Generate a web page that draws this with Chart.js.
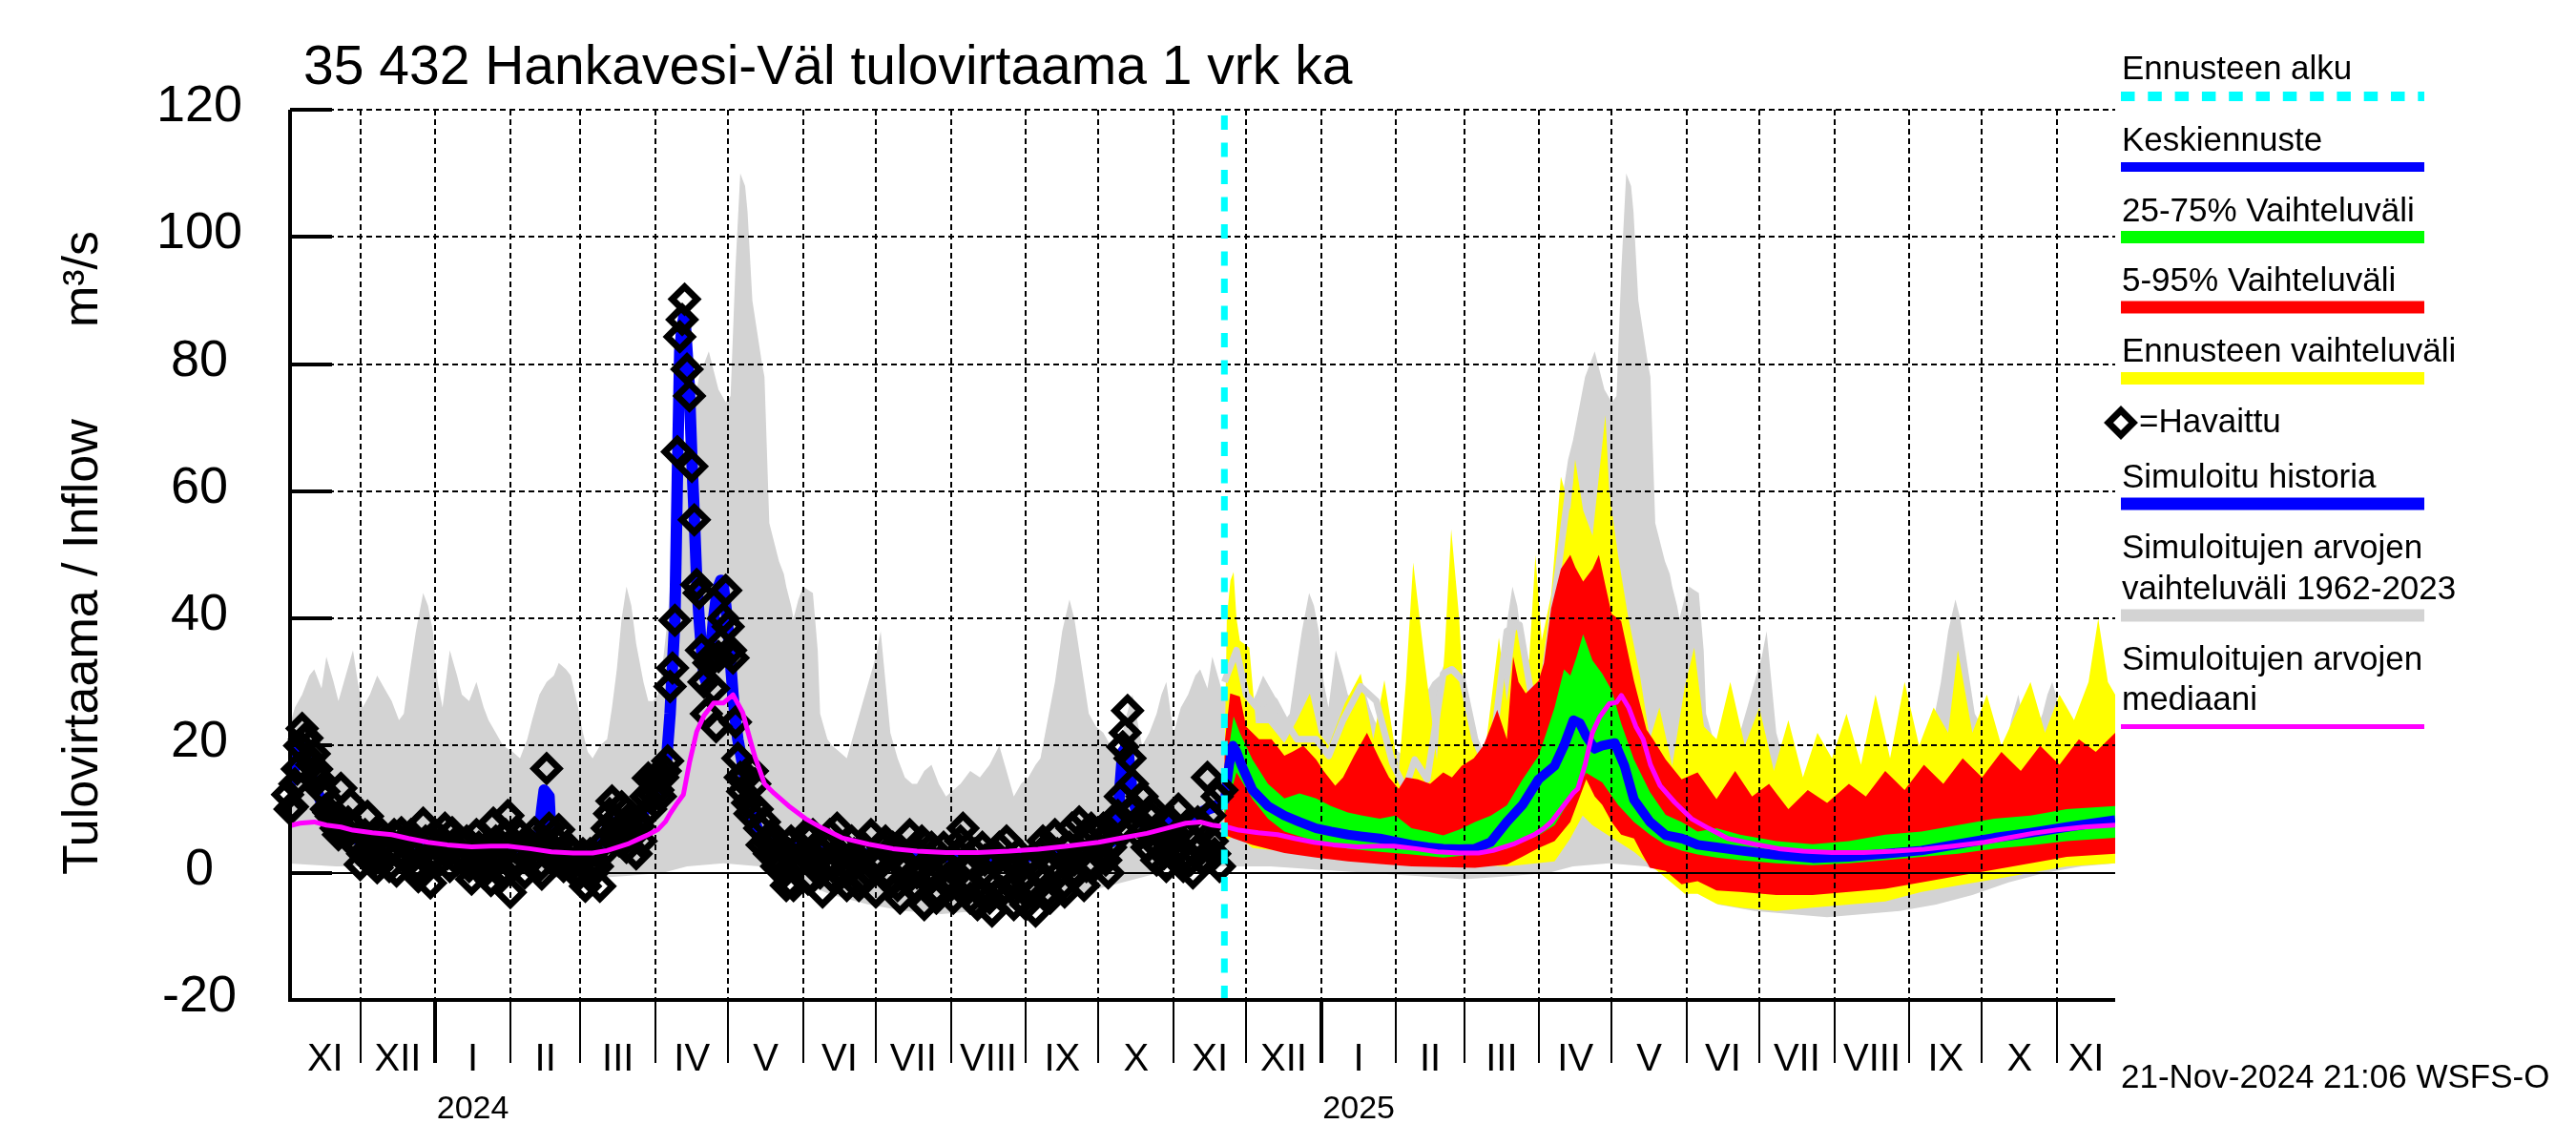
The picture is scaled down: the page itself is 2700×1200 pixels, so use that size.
<!DOCTYPE html>
<html>
<head>
<meta charset="utf-8">
<script src="https://cdn.jsdelivr.net/npm/chart.js@4.4.1/dist/chart.umd.min.js"></script>
<style>
  html, body { margin: 0; padding: 0; background: #fff; }
  #wrap { width: 2700px; height: 1200px; }
</style>
</head>
<body>
<div id="wrap"><canvas id="chart" width="2700" height="1200"></canvas></div>
<script>
// x = days counted from 1 Nov 2023
const monthStarts = [0, 30, 61, 92, 121, 152, 182, 213, 243, 274, 305, 335, 366, 396, 427, 458, 486, 517, 547, 578, 608, 639, 670, 700, 731, 755];
const monthLabels = ['XI', 'XII', 'I', 'II', 'III', 'IV', 'V', 'VI', 'VII', 'VIII', 'IX', 'X', 'XI', 'XII', 'I', 'II', 'III', 'IV', 'V', 'VI', 'VII', 'VIII', 'IX', 'X', 'XI'];
const yearLabels = [[61, 92, '2024'], [427, 458, '2025']];
const yTicks = [-20, 0, 20, 40, 60, 80, 100, 120];
const forecastStart = 387;

// simulated range 1962-2023 (grey)
const greyMaxPast = [[0,22],[3,26],[6,28],[9,31],[11,32],[14,29],[16,34],[19,30],[21,27],[24,31],[27,35],[29,30],[31,26],[34,28],[37,31],[40,29],[43,27],[46,24],[48,25],[51,33],[53,38],[56,44],[58,42],[60,38],[62,30],[64,26],[67,35],[70,31],[72,28],[75,27],[78,30],[81,26],[83,24],[86,22],[89,20],[93,19],[96,18],[99,21],[101,24],[104,28],[107,30],[110,31],[112,33],[115,32],[117,31],[120,26],[122,22],[124,19],[126,18],[129,20],[132,21],[134,26],[136,32],[138,40],[140,45],[142,42],[144,36],[147,30],[149,27],[151,27],[153,28],[155,33],[157,40],[159,50],[161,60],[163,65],[165,68],[167,72],[170,78],[172,80],[174,82],[176,79],[178,76],[181,74],[183,75],[185,95],[187,110],[189,108],[190,104],[192,90],[194,85],[196,80],[197,78],[199,55],[201,52],[203,49],[205,47],[206,45],[208,42],[209,40],[211,43],[213,45],[215,44.5],[217,44],[219,35],[220,25],[223,21],[225,20],[228,19],[231,18],[234,22],[237,26],[240,30],[243,34],[245,38],[247,30],[249,22],[252,18],[255,15],[258,14],[260,14],[263,16],[266,17],[269,14],[272,12],[275,13],[278,14],[282,16],[286,15],[290,17],[294,20],[297,16],[300,12],[303,14],[306,15],[309,17],[311,18],[314,24],[317,30],[320,38],[323,43],[325,40],[327,35],[329,30],[331,25],[334,23],[337,22],[340,20],[343,18],[346,24],[349,28],[351,24],[353,20],[356,22],[359,25],[361,28],[363,30]];
const greyMaxFc = [[366,22],[369,26],[372,28],[375,31],[377,32],[380,29],[382,34],[385,30],[387,27],[390,31],[393,35],[395,30],[397,26],[400,28],[403,31],[406,29],[409,27],[412,24],[414,25],[417,33],[419,38],[422,44],[424,42],[426,38],[428,30],[430,26],[433,35],[436,31],[438,28],[441,27],[444,30],[447,26],[449,24],[452,22],[455,20],[459,19],[462,18],[465,21],[467,24],[470,28],[473,30],[476,31],[478,33],[481,32],[483,31],[486,26],[488,22],[490,19],[492,18],[495,20],[498,21],[500,26],[502,32],[504,40],[506,45],[508,42],[510,36],[513,30],[515,27],[517,27],[519,28],[521,33],[523,40],[525,50],[527,60],[529,65],[531,68],[533,72],[536,78],[538,80],[540,82],[542,79],[544,76],[547,74],[549,75],[551,95],[553,110],[555,108],[556,104],[558,90],[560,85],[562,80],[563,78],[565,55],[567,52],[569,49],[571,47],[572,45],[574,42],[575,40],[577,43],[579,45],[581,44.5],[583,44],[585,35],[586,25],[589,21],[591,20],[594,19],[597,18],[600,22],[603,26],[606,30],[609,34],[611,38],[613,30],[615,22],[618,18],[621,15],[624,14],[626,14],[629,16],[632,17],[635,14],[638,12],[641,13],[644,14],[648,16],[652,15],[656,17],[660,20],[663,16],[666,12],[669,14],[672,15],[675,17],[677,18],[680,24],[683,30],[686,38],[689,43],[691,40],[693,35],[695,30],[697,25],[700,23],[703,22],[706,20],[709,18],[712,24],[715,28],[717,24],[719,20],[722,22],[725,25],[727,28],[729,30],[732,26],[735,22],[738,23],[740,24],[743,25],[746,26],[749,27],[752,28],[755,28]];
const greyMinPast = [[0,1.5],[20,1],[40,1],[60,0.5],[80,0],[100,-0.5],[120,-1],[140,-0.5],[155,0],[165,1],[180,1.5],[195,1],[205,0],[215,-2],[225,-3.5],[240,-5],[255,-6],[270,-6.5],[285,-6],[300,-5.5],[315,-4.5],[330,-3],[345,-1.5],[360,0]];
const greyMinFc = [[366,1.5],[386,1],[406,1],[426,0.5],[446,0],[466,-0.5],[486,-1],[506,-0.5],[521,0],[531,1],[546,1.5],[561,1],[571,0],[581,-2.5],[591,-5],[606,-6],[621,-6.5],[636,-7],[651,-6.5],[666,-6],[681,-5],[696,-3.5],[711,-1.5],[726,0],[741,1],[755,1.5]];

// median of simulated values (magenta)
const medianPast = [[0,7.3],[5,7.8],[11,8],[16,7.5],[22,7.2],[27,6.7],[35,6.3],[43,6],[50,5.4],[58,4.8],[66,4.4],[76,4.1],[84,4.2],[91,4.2],[100,3.8],[109,3.3],[118,3.1],[126,3.1],[132,3.5],[137,4.1],[141,4.6],[145,5.3],[149,6],[153,6.8],[156,8],[158,9.3],[161,11],[163.5,12.3],[166,17.3],[169,22.2],[172,24.7],[176,26.7],[180,26.7],[184,28],[188,25.2],[191,21],[193,18.3],[197,14],[201,12.5],[207,10.5],[214,8.5],[221,7],[229,5.5],[240,4.5],[250,3.8],[260,3.4],[272,3.2],[285,3.2],[298,3.4],[310,3.7],[322,4.2],[335,4.8],[345,5.5],[355,6.2]];
const medianFc = [[366,7.3],[371,7.8],[377,8],[382,7.5],[388,7.2],[393,6.7],[401,6.3],[409,6],[416,5.4],[424,4.8],[432,4.4],[442,4.1],[450,4.2],[457,4.2],[466,3.8],[475,3.3],[484,3.1],[492,3.1],[498,3.5],[503,4.1],[507,4.6],[511,5.3],[515,6],[519,7],[522,8],[525,9.5],[528,11],[531,12.5],[533,13.2],[536,17],[539,22],[542,24.5],[546,26.6],[549,26.8],[551,27.9],[554,26],[557,23],[560,21],[563,17],[567,13.7],[573,11.1],[580,8.5],[587,7],[595,5.4],[606,4.5],[616,3.8],[626,3.4],[638,3.2],[651,3.2],[664,3.4],[676,3.7],[688,4.2],[701,4.8],[711,5.5],[721,6.2],[732,6.8],[742,7.2],[755,7.5]];

// observed inflow (diamonds)
const observed = [[0,12.3],[1,10],[2,10.4],[3,14],[4,16.3],[5,20],[6,22.7],[7,21],[8,21.2],[9,18],[10,17],[11,18.7],[12,16.3],[13,14.8],[14,13],[15,12.8],[16,10],[17,9.5],[18,8.9],[19,8],[20,7],[21,6],[22,13.3],[23,7],[24,6],[25,8],[26,10.8],[27,7],[28,5],[29,4],
[30,1.3],[31,3],[32,6],[33,8.9],[34,5],[35,3],[36,2],[37,0.8],[38,4],[39,6],[40,5],[41,3],[42,1],[43,4],[44,6],[45,0.3],[46,3],[47,6.3],[48,5],[49,2],[50,4],[51,6],[52,3],[53,1],[54,-0.6],[55,4],[56,7.8],[57,5],[58,2],[59,-1.6],[60,3],[61,6],[62,4],
[63,2],[64,5],[65,7],[66,3],[67,1],[68,6.3],[69,4],[70,2],[71,5],[72,3],[73,2.3],[74,5],[75,1],[76,-1],[77,3],[78,6],[79,4],[80,2],[81,0],[82,4],[83,1],[84,-1.2],[85,7.8],[86,5],[87,2],[88,0],[89,4],[90,6],[91,9],[92,-3.1],
[93,1],[94,4],[95,2],[96,6],[97,3],[98,0],[99,5],[100,2],[101,4],[102,6.3],[103,3],[104,1],[105,-0.2],[106,5],[107,16.4],[108,7],[109,4],[110,2],[111,5],[112,6.8],[113,3],[114,1],[115,2.3],[116,4],[117,1],[118,3],[119,0],[120,2],
[121,0],[122,3],[123,-2.1],[124,1],[125,3],[126,0],[127,2],[128,1],[129,-2.1],[130,3],[131,5],[132,7],[133,9.3],[134,11.3],[135,8],[136,6],[137,5],[138,10.4],[139,7],[140,4],[141,6],[142,8.9],[143,6],[144,3],[145,7.3],[146,5],[147,9],[148,12],[149,14.9],[150,10],[151,12.3],[152,15],[153,13],[154,12],[155,15],[156,16],[157,17.6],[158,29.3],[159,32.2],[160,39.7],
[161,66.2],[162,84.3],[163,87],[164,90.2],[165,79.2],[166,75],[167,63.9],[168,55.5],[169,45.3],[170,44],[171,35],[172,30],[173,25],[174,33],[175,34],[176,29],[177,23],[178,34],[179,36],[180,40],[181,44.4],[182,38.7],[183,35],[184,33.8],[185,23.7],[186,18],[187,15],[188,12.8],[189,15.3],[190,11],[191,9.3],[192,16],[193,14],[194,10],[195,7],
[196,4.4],[197,8],[198,5],[199,3],[200,6],[201,5],[202,1],[203,2],[204,4],[205,0],[206,-2],[207,3],[208,5],[209,-2],[210,1],[211,4],[212,2],[213,3],[214,6],[215,-1],[216,2],[217,6],[218,4],[219,2],[220,0],[221,-3],[222,1],[223,4],[224,6],[225,1],[226,-1],[227,7],[228,3],[229,0],[230,4],[231,-2],[232,1],[233,5],[234,3],[235,2],[236,-2],[237,-1],[238,4],[239,3],[240,0],[241,6],[242,2],
[243,-3],[244,1],[245,2],[246,4],[247,5],[248,0],[249,-1],[250,4],[251,3],[252,-2],[253,-4],[254,2],[255,1],[256,-1],[257,6],[258,3],[259,-2],[260,0],[261,3],[262,5],[263,-5],[264,-1],[265,2],[266,4],[267,0],[268,-4],[269,-3],[270,2],[271,4],[272,-1],[273,1],
[274,-2],[275,-4],[276,0],[277,3],[278,5],[279,7],[280,1],[281,-2],[282,-4],[283,1],[284,3],[285,-5],[286,-3],[287,4],[288,2],[289,-1],[290,-4],[291,-6],[292,-2],[293,2],[294,4],[295,-3],[296,0],[297,5],[298,2],[299,-2],[300,-5],[301,1],[302,3],[303,-4],[304,-1],
[305,-5],[306,-2],[307,2],[308,-3],[309,-6],[310,0],[311,3],[312,5],[313,-1],[314,-3],[315,-4],[316,1],[317,6],[318,3],[319,0],[320,-2],[321,-3],[322,2],[323,4],[324,7],[325,2],[326,0],[327,8],[328,3],[329,-2],[330,1],[331,5],[332,7],[333,1],[334,4],
[335,3],[336,5],[337,7],[338,2],[339,0],[340,4],[341,5],[342,8],[343,9],[344,12],[345,19.8],[346,22],[347,25.5],[348,18],[349,14],[350,10],[351,8],[352,6],[353,12],[354,7],[355,4],[356,9],[357,10],[358,5],[359,2],[360,4],[361,6],[362,3],[363,1],[364,5],[365,8],
[366,3],[367,6],[368,10],[369,4],[370,1],[371,3],[372,6],[373,2],[374,0],[375,5],[376,8],[377,4],[378,2],[379,7],[380,15],[381,9],[382,5],[383,3],[384,12],[385,1],[386,13]];

// simulated history (blue, before forecast)
const simHistory = [[0,12],[3,17],[5,21],[7,20],[9,17],[11,14],[14,11],[17,9],[20,7.5],[25,6],[30,5],[35,4.5],[45,4.2],[55,4],[65,3.8],[75,3.5],[85,3.2],[95,3],[103,3],[105,10],[106,13],[108,12],[109,4],[115,3],[125,2.8],[128,3],[132,7],[135,8],[138,6],[142,7],[146,9],[150,11],[154,13],[156,15],[158,25],[160,40],[161,62],[162,82],[163,86],[164,88],[165,82],[166,76],[167,65],[168,56],[169,46],[170,40],[171,35],[172,31],[173,30],[174,32],[175,36],[176,40],[177,43],[178,45],[179,46],[180,45],[181,42],[182,38],[183,33],[184,28],[185,24],[186,21],[187,19],[188,17],[190,12],[192,9],[195,6],[200,5],[205,4.5],[215,4],[225,3.5],[235,3],[245,3],[255,2.5],[265,2.5],[275,2.5],[285,2.5],[295,2.5],[305,2.5],[315,3],[325,3.5],[335,4],[341,5],[343,9],[345,19],[347,20],[349,12],[352,8],[356,7.5],[360,7.5],[365,8],[370,8],[375,9],[380,10],[387,11]];

// forecast
const meanFc = [[387,11],[389,17],[390.5,20],[392,19],[394,17],[398.6,13],[405,10.5],[411.8,9],[418,8],[424.9,7],[431,6.5],[438,6],[444,5.7],[451.2,5.4],[458,4.9],[464.3,4.4],[471,4],[477.4,3.8],[484,3.7],[490.5,3.8],[497,4.8],[503.7,8],[510.2,10.7],[516.8,14.7],[523.4,16.8],[527.3,20],[531.2,24],[533.9,23.5],[536.5,21.5],[540,19.5],[543.1,20],[548.3,20.4],[552.3,16.8],[556.2,11.5],[562.8,8],[569.3,5.9],[575.9,5.4],[582.5,4.4],[590.3,4],[600,3.5],[615,2.8],[630,2.3],[645,2.5],[660,3],[675,3.5],[690,4.5],[705,5.5],[720,6.3],[735,7.2],[755,8.3]];
const greenHi = [[387,12],[389,20],[390.8,24.6],[393.4,22],[398.6,17.8],[405,14],[411.8,11.7],[418,12.5],[424.9,11.7],[431,10.5],[438,9.5],[444,9],[451.2,8.5],[457.7,9],[464.3,7],[471,6.5],[477.4,5.9],[484,6.8],[490.5,8],[497.1,9],[503.7,10.6],[510.2,14.7],[516.8,18.4],[520,22],[523.4,26],[527.3,32],[529.9,31],[532.5,34],[535.2,37.5],[539.1,33.4],[543.1,31.3],[547,28.7],[550.9,23.5],[556.2,17.8],[562.8,12.7],[569.3,9.1],[575.9,8],[582.5,6.5],[590.3,7],[600,6],[615,5],[630,4.5],[645,5],[660,6],[675,6.5],[690,7.5],[705,8.5],[720,9],[735,10],[755,10.5]];
const greenLo = [[387,9],[392,15.8],[398.6,11.6],[405,8.5],[411.8,6.5],[424.9,4.9],[438,3.8],[451.2,3.3],[464.3,2.9],[477.4,2.4],[490.5,2.9],[503.7,3.8],[516.8,5.9],[523.4,7.5],[529.9,11.6],[536.5,15.7],[543.1,14.2],[549.6,10.7],[556.2,8],[562.8,6],[569.3,4.4],[575.9,3.5],[582.5,2.9],[590.3,2.4],[600,2],[615,1.5],[630,1.2],[645,1.5],[660,2],[675,2.5],[690,3],[705,3.8],[720,4.3],[735,5],[755,5.5]];
const redHi = [[387,20],[389.4,28.2],[393.4,27.7],[396,23],[401.3,21],[406.5,21],[411.8,18.4],[415,19],[419.6,20],[424.9,17.8],[428,16],[432.8,13.7],[436,15],[440.6,18.4],[445.9,22],[451.2,17.8],[455,15],[459,13.2],[462,15],[466.9,14.7],[472,14],[477.4,15.8],[481,15],[485,16.8],[490,18],[494,20],[497.1,23],[499.7,25.6],[503.7,21],[506.3,34],[508.5,30],[511.5,28.2],[516.8,30.2],[519,33],[522,41.6],[526,47.8],[529.9,50],[532,48],[535.2,45.8],[539.1,47.8],[541.7,50],[544.5,45],[547,40.7],[550.9,39.6],[553.5,35],[556.2,30.2],[561.4,22.5],[564.1,21],[569.3,17.8],[575.9,14.7],[582.5,15.8],[590.3,11.6],[598,16],[605,12],[612,14],[620,10],[628,13],[636,11],[645,14],[652,12],[660,16],[668,13],[676,17],[684,14],[692,18],[700,15],[708,19],[716,16],[724,20],[732,17],[740,21],[747,19],[755,22]];
const redLo = [[387,6],[390.8,5.4],[398.6,4.4],[411.8,3.1],[424.9,2.4],[438,1.8],[451.2,1.4],[464.3,1],[477.4,0.9],[490.5,0.8],[503.7,1.3],[510,2.5],[516.8,3.9],[523.4,5],[529.9,8],[536.5,14.7],[540,12],[543.1,10.7],[547,8],[550.9,6],[556.2,5.4],[559.5,3],[562.8,0.8],[569.3,0.3],[575.9,-1.8],[582.5,-1.3],[590.3,-2.8],[600,-3],[615,-3.5],[630,-3.5],[645,-3],[660,-2.5],[675,-1.5],[690,-0.5],[705,0.5],[720,1.5],[735,2.5],[755,3]];
const yellowHi = [[387,15],[388,40],[389.5,46],[390.8,47.3],[392,40],[393.4,36.5],[397.3,35.4],[400,23.5],[405.2,23.5],[411.8,20.4],[417,24],[422.3,28.2],[426,22],[430.1,20],[436.7,26.6],[443.3,31.3],[448.5,21],[453.1,30.3],[459,15.8],[462,30],[465,48.8],[469.5,34],[474.8,17.8],[478,35],[480.7,54],[484,40],[485.3,31.3],[490.5,20],[494.5,18.4],[500.4,37],[503.7,27],[507.6,38.6],[512.9,33.4],[515.5,50],[518.1,36.5],[522,43.7],[526,62.3],[529.9,57],[531.9,65],[535.2,57],[539.1,53],[544.4,72],[546,60],[549.6,50],[553.6,40.7],[558.8,30.7],[562.8,21],[566.7,26],[572,16.8],[577.2,29.3],[581.1,35.4],[585.1,23],[590.3,21],[596,30],[602,20],[608,26],[614,16],[620,24],[626,15],[632,22],[638,18],[644,25],[650,17],[656,28],[662,18],[668,30],[674,20],[680,26],[686,22],[690,35],[696,22],[702,28],[708,20],[714,25],[720,30],[726,22],[732,28],[738,24],[744,30],[748,40],[752,30],[755,28]];
const yellowLo = [[387,5],[392,6],[398.6,3.9],[424.9,2.9],[464.3,1.8],[503.7,1],[523.4,1.8],[529.9,5.4],[535,9],[539,7.5],[543.1,6.5],[556.2,3.3],[569.3,-0.8],[577.2,-3.3],[582.5,-3.3],[590.3,-4.9],[600,-5.5],[615,-6],[630,-5.5],[645,-5],[660,-4.5],[675,-3],[690,-2],[705,-1],[720,0],[735,1],[755,1.5]];
const greyLineFc = [[387,30],[392,35],[396,28],[402.6,25],[407.8,27],[412,24],[417,21],[424.9,21],[430.1,18.4],[436,24],[443.3,29.3],[449.8,27],[456.4,17.3],[461.7,13.2],[465.6,17.8],[470.8,14.7],[477.4,31.3],[481,32],[485.3,30.3],[490.5,21],[494.5,17.3],[498.4,21.5],[503.7,38],[508.9,39],[514.2,27],[518.1,27.7],[522,39],[526,51],[529.9,62.3]];

const pts = arr => arr.map(p => ({ x: p[0], y: p[1] }));
const FONT = '"Liberation Sans", Arial, Helvetica, sans-serif';

function line(label, data, color, width, extra) {
    return Object.assign({
        label: label,
        data: pts(data),
        borderColor: color,
        borderWidth: width,
        pointRadius: 0,
        fill: false,
        tension: 0,
        borderJoinStyle: 'round'
    }, extra || {});
}

function band(label, data, color, fill) {
    return {
        label: label,
        data: pts(data),
        borderWidth: 0,
        borderColor: 'rgba(0,0,0,0)',
        backgroundColor: color,
        pointRadius: 0,
        fill: fill,
        tension: 0
    };
}

const datasets = [
    line('Ennusteen alku', [[forecastStart, -20], [forecastStart, 120]], '#00FFFF', 7, { borderDash: [15, 13.5], borderCapStyle: 'butt' }),
    line('Simuloitujen arvojen mediaani', medianPast.concat(medianFc), '#FF00FF', 5),
    {
        label: 'Havaittu',
        data: pts(observed),
        showLine: false,
        pointStyle: 'rectRot',
        pointRadius: 13,
        pointBorderWidth: 7,
        pointBorderColor: '#000',
        pointBackgroundColor: 'rgba(0,0,0,0)',
        clip: false
    },
    line('Simuloitu historia', simHistory, '#0000FF', 12),
    line('Keskiennuste', meanFc, '#0000FF', 10),
    band('25-75% Vaihteluväli', greenHi, '#00FF00', '+1'),
    band('', greenLo, 'rgba(0,0,0,0)', false),
    band('5-95% Vaihteluväli', redHi, '#FF0000', '+1'),
    band('', redLo, 'rgba(0,0,0,0)', false),
    line('', greyLineFc, '#D3D3D3', 7),
    band('Ennusteen vaihteluväli', yellowHi, '#FFFF00', '+1'),
    band('', yellowLo, 'rgba(0,0,0,0)', false),
    band('Simuloitujen arvojen vaihteluväli 1962-2023', greyMaxPast.concat(greyMaxFc), '#D3D3D3', '+1'),
    band('', greyMinPast.concat(greyMinFc), 'rgba(0,0,0,0)', false)
];

// grid over the filled bands, under the lines
const gridPlugin = {
    id: 'gridOverBands',
    beforeDatasetDraw(chart, args) {
        if (args.index !== 4) return;
        const ctx = chart.ctx, a = chart.chartArea;
        const x = chart.scales.x, y = chart.scales.y;
        ctx.save();
        ctx.strokeStyle = '#000';
        ctx.lineWidth = 2;
        ctx.setLineDash([6, 4]);
        ctx.beginPath();
        monthStarts.forEach(d => {
            if (d <= x.min || d >= x.max) return;
            const px = Math.round(x.getPixelForValue(d));
            ctx.moveTo(px, a.top);
            ctx.lineTo(px, a.bottom);
        });
        yTicks.forEach(v => {
            if (v === 0 || v === y.min) return;
            const py = Math.round(y.getPixelForValue(v));
            ctx.moveTo(a.left, py);
            ctx.lineTo(a.right, py);
        });
        ctx.stroke();
        ctx.setLineDash([]);
        ctx.beginPath();
        const py0 = Math.round(y.getPixelForValue(0));
        ctx.moveTo(a.left, py0);
        ctx.lineTo(a.right, py0);
        ctx.stroke();
        ctx.restore();
    }
};

const framePlugin = {
    id: 'frameAndText',
    afterDatasetsDraw(chart) {
        const ctx = chart.ctx, a = chart.chartArea;
        const x = chart.scales.x, y = chart.scales.y;
        ctx.save();
        ctx.strokeStyle = '#000';
        ctx.lineWidth = 4;
        ctx.beginPath();
        ctx.moveTo(a.left, a.top);
        ctx.lineTo(a.left, a.bottom);
        ctx.moveTo(a.left - 2, a.bottom);
        ctx.lineTo(a.right, a.bottom);
        yTicks.forEach(v => {
            const py = Math.round(y.getPixelForValue(v));
            ctx.moveTo(a.left, py);
            ctx.lineTo(a.left + 44, py);
        });
        ctx.stroke();
        monthStarts.forEach((d, i) => {
            if (d <= x.min || d >= x.max) return;
            const px = Math.round(x.getPixelForValue(d));
            ctx.lineWidth = monthLabels[i] === 'I' ? 4 : 2;
            ctx.beginPath();
            ctx.moveTo(px, a.bottom);
            ctx.lineTo(px, a.bottom + 66);
            ctx.stroke();
        });
        ctx.restore();
    },
    afterDraw(chart) {
        const ctx = chart.ctx, a = chart.chartArea;
        const x = chart.scales.x, y = chart.scales.y;
        ctx.save();
        ctx.fillStyle = '#000';

        // title
        ctx.font = '57px ' + FONT;
        ctx.textAlign = 'left';
        ctx.textBaseline = 'alphabetic';
        ctx.fillText('35 432 Hankavesi-Väl tulovirtaama 1 vrk ka', 318, 88);

        // y tick labels
        ctx.font = '54px ' + FONT;
        ctx.textAlign = 'center';
        yTicks.forEach(v => {
            ctx.fillText(String(v), 209, y.getPixelForValue(v) + 12);
        });

        // y axis title
        ctx.save();
        ctx.translate(102, 0);
        ctx.rotate(-Math.PI / 2);
        ctx.font = '52px ' + FONT;
        ctx.textAlign = 'left';
        ctx.fillText('Tulovirtaama / Inflow', -917, 0);
        ctx.textAlign = 'right';
        ctx.fillText('m³/s', -242, 0);
        ctx.restore();

        // month and year labels
        ctx.font = '40px ' + FONT;
        ctx.textAlign = 'center';
        for (let i = 0; i < monthLabels.length; i++) {
            const d0 = Math.max(monthStarts[i], x.min);
            const d1 = Math.min(monthStarts[i + 1], x.max);
            const cx = (x.getPixelForValue(d0) + x.getPixelForValue(d1)) / 2;
            ctx.fillText(monthLabels[i], cx, a.bottom + 74);
        }
        ctx.font = '34px ' + FONT;
        yearLabels.forEach(yl => {
            const cx = (x.getPixelForValue(yl[0]) + x.getPixelForValue(yl[1])) / 2;
            ctx.fillText(yl[2], cx, a.bottom + 124);
        });

        // timestamp
        ctx.font = '35px ' + FONT;
        ctx.textAlign = 'left';
        ctx.fillText('21-Nov-2024 21:06 WSFS-O', 2223, 1140);

        // legend
        const lx0 = 2223, lx1 = 2541, tx = 2224;
        const bar = (yy, color, w, dash) => {
            ctx.save();
            ctx.strokeStyle = color;
            ctx.lineWidth = w;
            ctx.lineCap = 'butt';
            ctx.setLineDash(dash || []);
            ctx.beginPath();
            ctx.moveTo(lx0, yy);
            ctx.lineTo(lx1, yy);
            ctx.stroke();
            ctx.restore();
        };
        ctx.font = '35px ' + FONT;
        ctx.textAlign = 'left';
        ctx.fillText('Ennusteen alku', tx, 83);
        bar(101, '#00FFFF', 10, [14.5, 13.8]);
        ctx.fillText('Keskiennuste', tx, 158);
        bar(175, '#0000FF', 10);
        ctx.fillText('25-75% Vaihteluväli', tx, 232);
        bar(248.5, '#00FF00', 13);
        ctx.fillText('5-95% Vaihteluväli', tx, 305);
        bar(322, '#FF0000', 13);
        ctx.fillText('Ennusteen vaihteluväli', tx, 379);
        bar(396.5, '#FFFF00', 13);

        ctx.save();
        ctx.strokeStyle = '#000';
        ctx.lineWidth = 7;
        ctx.beginPath();
        ctx.moveTo(2223, 443 - 13);
        ctx.lineTo(2223 + 13, 443);
        ctx.lineTo(2223, 443 + 13);
        ctx.lineTo(2223 - 13, 443);
        ctx.closePath();
        ctx.stroke();
        ctx.restore();
        ctx.fillText('=Havaittu', 2242, 453);

        ctx.fillText('Simuloitu historia', tx, 511);
        bar(528, '#0000FF', 13);
        ctx.fillText('Simuloitujen arvojen', tx, 585);
        ctx.fillText('vaihteluväli 1962-2023', tx, 628);
        bar(645, '#D3D3D3', 13);
        ctx.fillText('Simuloitujen arvojen', tx, 702);
        ctx.fillText('mediaani', tx, 744);
        bar(761.5, '#FF00FF', 5);

        ctx.restore();
    }
};

new Chart(document.getElementById('chart'), {
    type: 'line',
    data: { datasets: datasets },
    options: {
        responsive: false,
        animation: false,
        devicePixelRatio: 1,
        events: [],
        layout: { padding: { left: 304, right: 483, top: 115, bottom: 152 } },
        scales: {
            x: { type: 'linear', min: 1, max: 755, display: false },
            y: { type: 'linear', min: -20, max: 120, display: false }
        },
        plugins: {
            legend: { display: false },
            tooltip: { enabled: false },
            filler: { propagate: false }
        }
    },
    plugins: [gridPlugin, framePlugin]
});
</script>
</body>
</html>
